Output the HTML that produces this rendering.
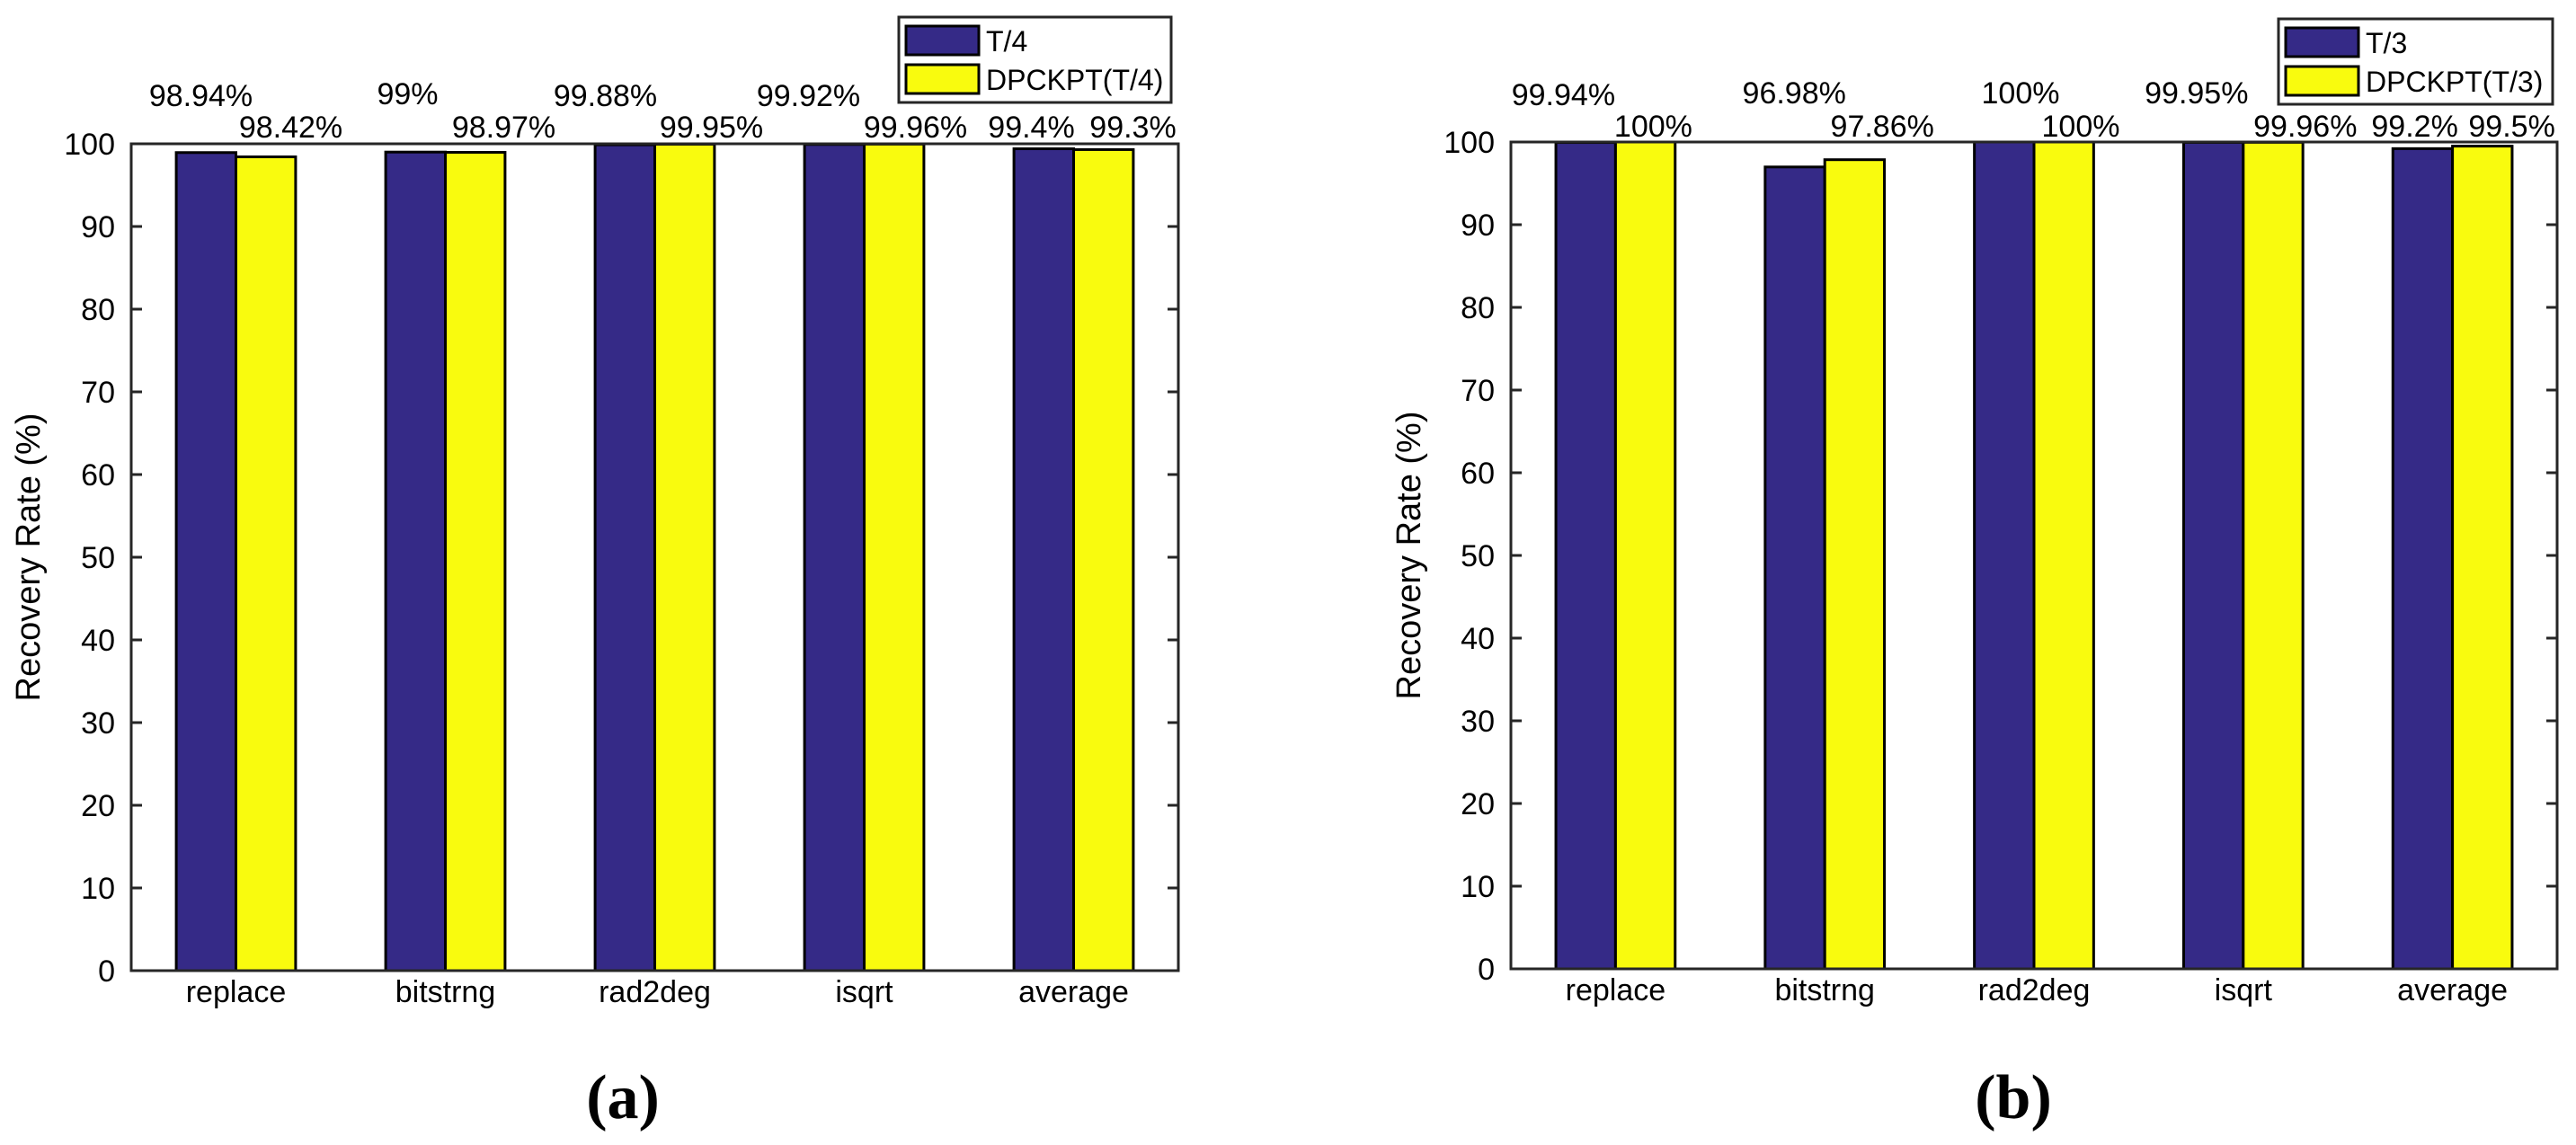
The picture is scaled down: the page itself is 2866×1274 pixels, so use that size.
<!DOCTYPE html>
<html><head><meta charset="utf-8"><style>
html,body{margin:0;padding:0;background:#fff;}
svg{display:block;}
text{font-family:"Liberation Sans",sans-serif;fill:#000;}
text.cap{font-family:"Liberation Serif",serif;}
</style></head><body>
<svg id="chart" width="2866" height="1274" viewBox="0 0 2866 1274" xmlns="http://www.w3.org/2000/svg"></svg>
<script>
const categories = ["replace","bitstrng","rad2deg","isqrt","average"];
const seriesA1 = [98.94, 99, 99.88, 99.92, 99.4];
const seriesA2 = [98.42, 98.97, 99.95, 99.96, 99.3];
const labelsA1 = ["98.94%","99%","99.88%","99.92%","99.4%"];
const labelsA2 = ["98.42%","98.97%","99.95%","99.96%","99.3%"];
const seriesB1 = [99.94, 96.98, 100, 99.95, 99.2];
const seriesB2 = [100, 97.86, 100, 99.96, 99.5];
const labelsB1 = ["99.94%","96.98%","100%","99.95%","99.2%"];
const labelsB2 = ["100%","97.86%","100%","99.96%","99.5%"];
const yTicks = [0,10,20,30,40,50,60,70,80,90,100];

const NS = "http://www.w3.org/2000/svg";
const svg = document.getElementById('chart');
function el(tag, attrs, parent){
  const e = document.createElementNS(NS, tag);
  for (const k in attrs) e.setAttribute(k, attrs[k]);
  (parent||svg).appendChild(e);
  return e;
}
const C1 = "#352a87", C2 = "#f9fb0e", AX = "#262626";

function panel(p){
  const g = el('g', {});
  
  
  const L = p.left, R = p.right, T = p.top, B = p.bottom;
  const y = v => B - (v/100)*(B-T);
  const gw = (R-L)/categories.length;
  const xc = i => L + gw*(i+0.5);
  const bw = gw*0.285;
  for (let i=0;i<categories.length;i++){
    const r1 = el('rect', {x:xc(i)-bw, y:y(p.s1[i]), width:bw, height:B-y(p.s1[i]), fill:C1, stroke:'#000','stroke-width':3}, g);
    
    
    const r2 = el('rect', {x:xc(i), y:y(p.s2[i]), width:bw, height:B-y(p.s2[i]), fill:C2, stroke:'#000','stroke-width':3}, g);
    
    
  }
  const box = el('rect', {x:L, y:T, width:R-L, height:B-T, fill:'none', stroke:AX, 'stroke-width':3}, g);
  
  
  yTicks.forEach(t=>{
    const yy = y(t);
    el('line',{x1:L,y1:yy,x2:L+12,y2:yy,stroke:AX,'stroke-width':3},g);
    el('line',{x1:R,y1:yy,x2:R-12,y2:yy,stroke:AX,'stroke-width':3},g);
    const tl = el('text',{x:L-18,y:yy+12,'text-anchor':'end','font-size':34,fill:'#262626'},g);
    
    
    tl.textContent = t;
  });
  categories.forEach((c,i)=>{
    const t = el('text',{x:xc(i),y:B+35,'text-anchor':'middle','font-size':34},g);
    
    
    t.textContent = c;
  });
  for (let i=0;i<categories.length;i++){
    const t1 = el('text',{x:xc(i)+p.dx1[i],y:p.by1[i],'text-anchor':'middle','font-size':34},g);
    
    
    t1.textContent = p.l1[i];
    const t2 = el('text',{x:xc(i)+p.dx2[i],y:p.by2,'text-anchor':'middle','font-size':34},g);
    
    
    t2.textContent = p.l2[i];
  }
  const yt = el('text',{x:0,y:0,'text-anchor':'middle','font-size':38,fill:'#262626',transform:`translate(${p.ytx},${(T+B)/2}) rotate(-90)`},g);
  
  
  yt.textContent = "Recovery Rate (%)";
  const lg = el('g',{},g);
  
  
  el('rect',{x:p.lx,y:p.ly,width:p.lw,height:95,fill:'#fff',stroke:AX,'stroke-width':3},lg);
  el('rect',{x:p.lx+8,y:p.ly+10,width:81,height:32,fill:C1,stroke:'#000','stroke-width':3},lg);
  el('rect',{x:p.lx+8,y:p.ly+53,width:81,height:32,fill:C2,stroke:'#000','stroke-width':3},lg);
  const e1 = el('text',{x:p.lx+97,y:p.ly+38,'font-size':32},lg);
  
  
  e1.textContent = p.key1;
  const e2 = el('text',{x:p.lx+97,y:p.ly+81,'font-size':32},lg);
  
  
  e2.textContent = p.key2;
  const cap = el('text',{x:p.capx,y:1244,'text-anchor':'middle','font-size':70,'font-weight':'bold','class':'cap'},g);
  
  
  cap.textContent = p.cap;
}

panel({name:'panel-a', left:146, right:1311, top:160, bottom:1080,
  s1:seriesA1, s2:seriesA2, l1:labelsA1, l2:labelsA2, key1:'T/4', key2:'DPCKPT(T/4)',
  dx1:[-39,-42,-55,-62,-47], dx2:[61,65,63,57,66], by1:[118,116,118,118,153], by2:153,
  ytx:44, lx:1000, ly:19, lw:303, capx:693, cap:'(a)'});
panel({name:'panel-b', left:1681, right:2845, top:158, bottom:1078,
  s1:seriesB1, s2:seriesB2, l1:labelsB1, l2:labelsB2, key1:'T/3', key2:'DPCKPT(T/3)',
  dx1:[-58,-34,-15,-52,-42], dx2:[42,64,52,69,66], by1:[117,115,115,115,152], by2:152,
  ytx:1580, lx:2535, ly:21, lw:305, capx:2240, cap:'(b)'});
</script>
</body></html>
